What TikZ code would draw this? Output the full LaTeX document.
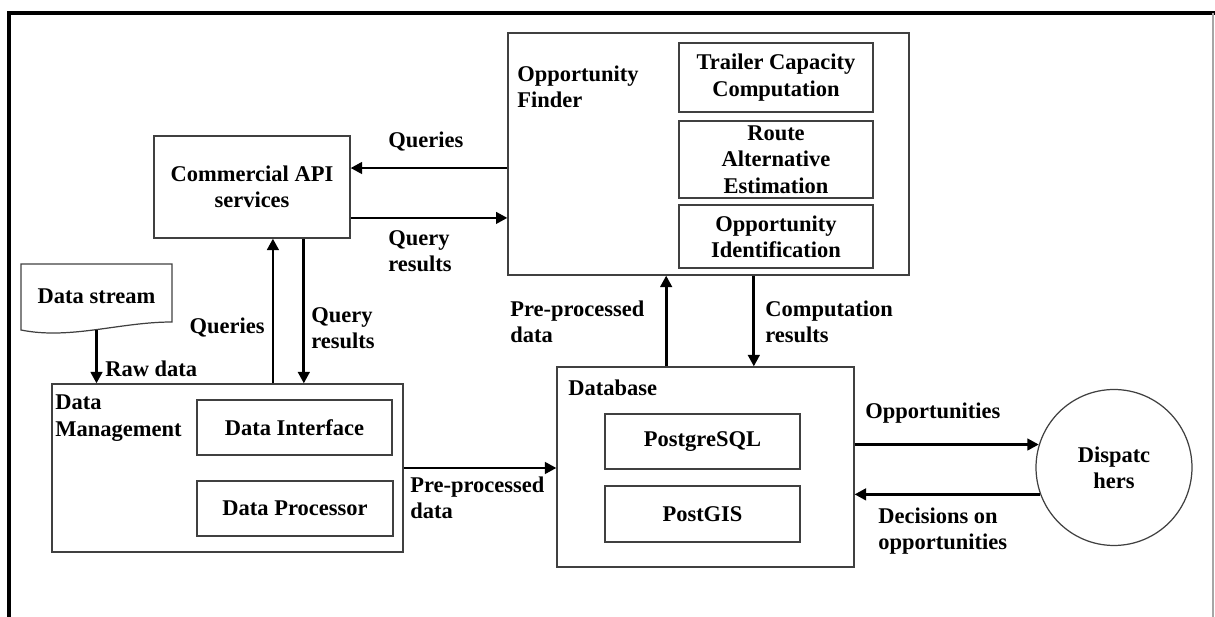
\documentclass[tikz,border=0pt]{standalone}
\usepackage{fontspec}
\setmainfont{Liberation Serif}
\usetikzlibrary{arrows.meta}
\tikzset{
  blk/.style={draw=black!75, line width=0.7pt, align=center, inner sep=0pt},
  lbl/.style={align=left, inner sep=0pt, anchor=west},
  arr/.style={line width=1.6pt, -{Triangle[length=6.5pt,width=6.5pt]}}
}
\begin{document}
\begin{tikzpicture}[x=0.02cm, y=-0.02cm, font=\fontsize{12.8}{15}\selectfont\bfseries]
    \useasboundingbox (0,0) rectangle (1215,617);
    \draw[line width=2.3pt](9,617)--(9,13)--(1215,13);
    \draw[black!35, line width=0.8pt](1213,13)--(1213,617);
    % blocks
    \node[blk, minimum width=3.92cm, minimum height=2.04cm](api) at (252,187){Commercial API\\services};
    \node[blk, minimum width=7.02cm, minimum height=3.36cm](dm) at (227.5,468){};
    \node[blk, minimum width=3.9cm, minimum height=1.1cm](di) at (294.5,427.5){Data Interface};
    \node[blk, minimum width=3.92cm, minimum height=1.1cm](dp) at (295,508.5){Data Processor};
    \node[blk, minimum width=5.94cm, minimum height=4cm](db) at (705.5,467){};
    \node[blk, minimum width=3.9cm, minimum height=1.1cm](pg) at (702.5,441.5){PostgreSQL};
    \node[blk, minimum width=3.9cm, minimum height=1.12cm](gis) at (702.5,514){PostGIS};
    \node[blk, minimum width=8.02cm, minimum height=4.84cm](of) at (708.5,154){};
    \node[blk, minimum width=3.88cm, minimum height=1.38cm](tc) at (776,77.5){Trailer Capacity\\Computation};
    \node[blk, minimum width=3.88cm, minimum height=1.54cm](ra) at (776,159.5){Route\\Alternative\\Estimation};
    \node[blk, minimum width=3.88cm, minimum height=1.26cm](oi) at (776,236.5){Opportunity\\Identification};
    \node[blk, circle, minimum size=3.12cm](disp) at (1114,467.5){Dispatc\\hers};
    \node[inner sep=0pt, minimum width=3.02cm, minimum height=1.36cm](ds) at (96.5,296){Data stream};
    \draw[blk](21,264)--(172,264)--(172,322) .. controls (120,322) and (70,340) .. (21,330)--cycle;
    % titles
    \node[lbl](dmt) at (55,418){Data\\Management};
    \node[lbl](dbt) at (568,388){Database};
    \node[lbl](oft) at (517,87){Opportunity\\Finder};
    % connectors
    \draw[arr]([yshift=10.8pt]api.east -| of.west)--([yshift=10.8pt]api.east);
    \draw[arr]([yshift=-17.6pt]api.east)--([yshift=-17.6pt]api.east -| of.west);
    \draw[arr]([xshift=11.9pt]api.south |- dm.north)--([xshift=11.9pt]api.south);
    \draw[arr]([xshift=29.5pt]api.south)--([xshift=29.5pt]api.south |- dm.north);
    \draw[arr](ds.south)--(ds.south |- dm.north);
    \draw[arr](dm.east)--(dm.east -| db.west);
    \draw[arr]([xshift=-24.1pt]of.south |- db.north)--([xshift=-24.1pt]of.south);
    \draw[arr]([xshift=25.8pt]of.south)--([xshift=25.8pt]of.south |- db.north);
    \draw[arr](db.east |- disp.163)--(disp.163);
    \draw[arr](disp.200)--(disp.200 -| db.east);
    % labels
    \node[lbl](l1) at (388,142){Queries};
    \node[lbl](l2) at (388,251){Query\\results};
    \node[lbl, anchor=east](l3) at (265,328){Queries};
    \node[lbl](l4) at (311,328){Query\\results};
    \node[lbl](l5) at (105,369){Raw data};
    \node[lbl](l6) at (410,498){Pre-processed\\data};
    \node[lbl](l7) at (510,322){Pre-processed\\data};
    \node[lbl](l8) at (765,322){Computation\\results};
    \node[lbl](l9) at (865,413){Opportunities};
    \node[lbl](l10) at (878,531){Decisions on\\opportunities};
\end{tikzpicture}
\end{document}
